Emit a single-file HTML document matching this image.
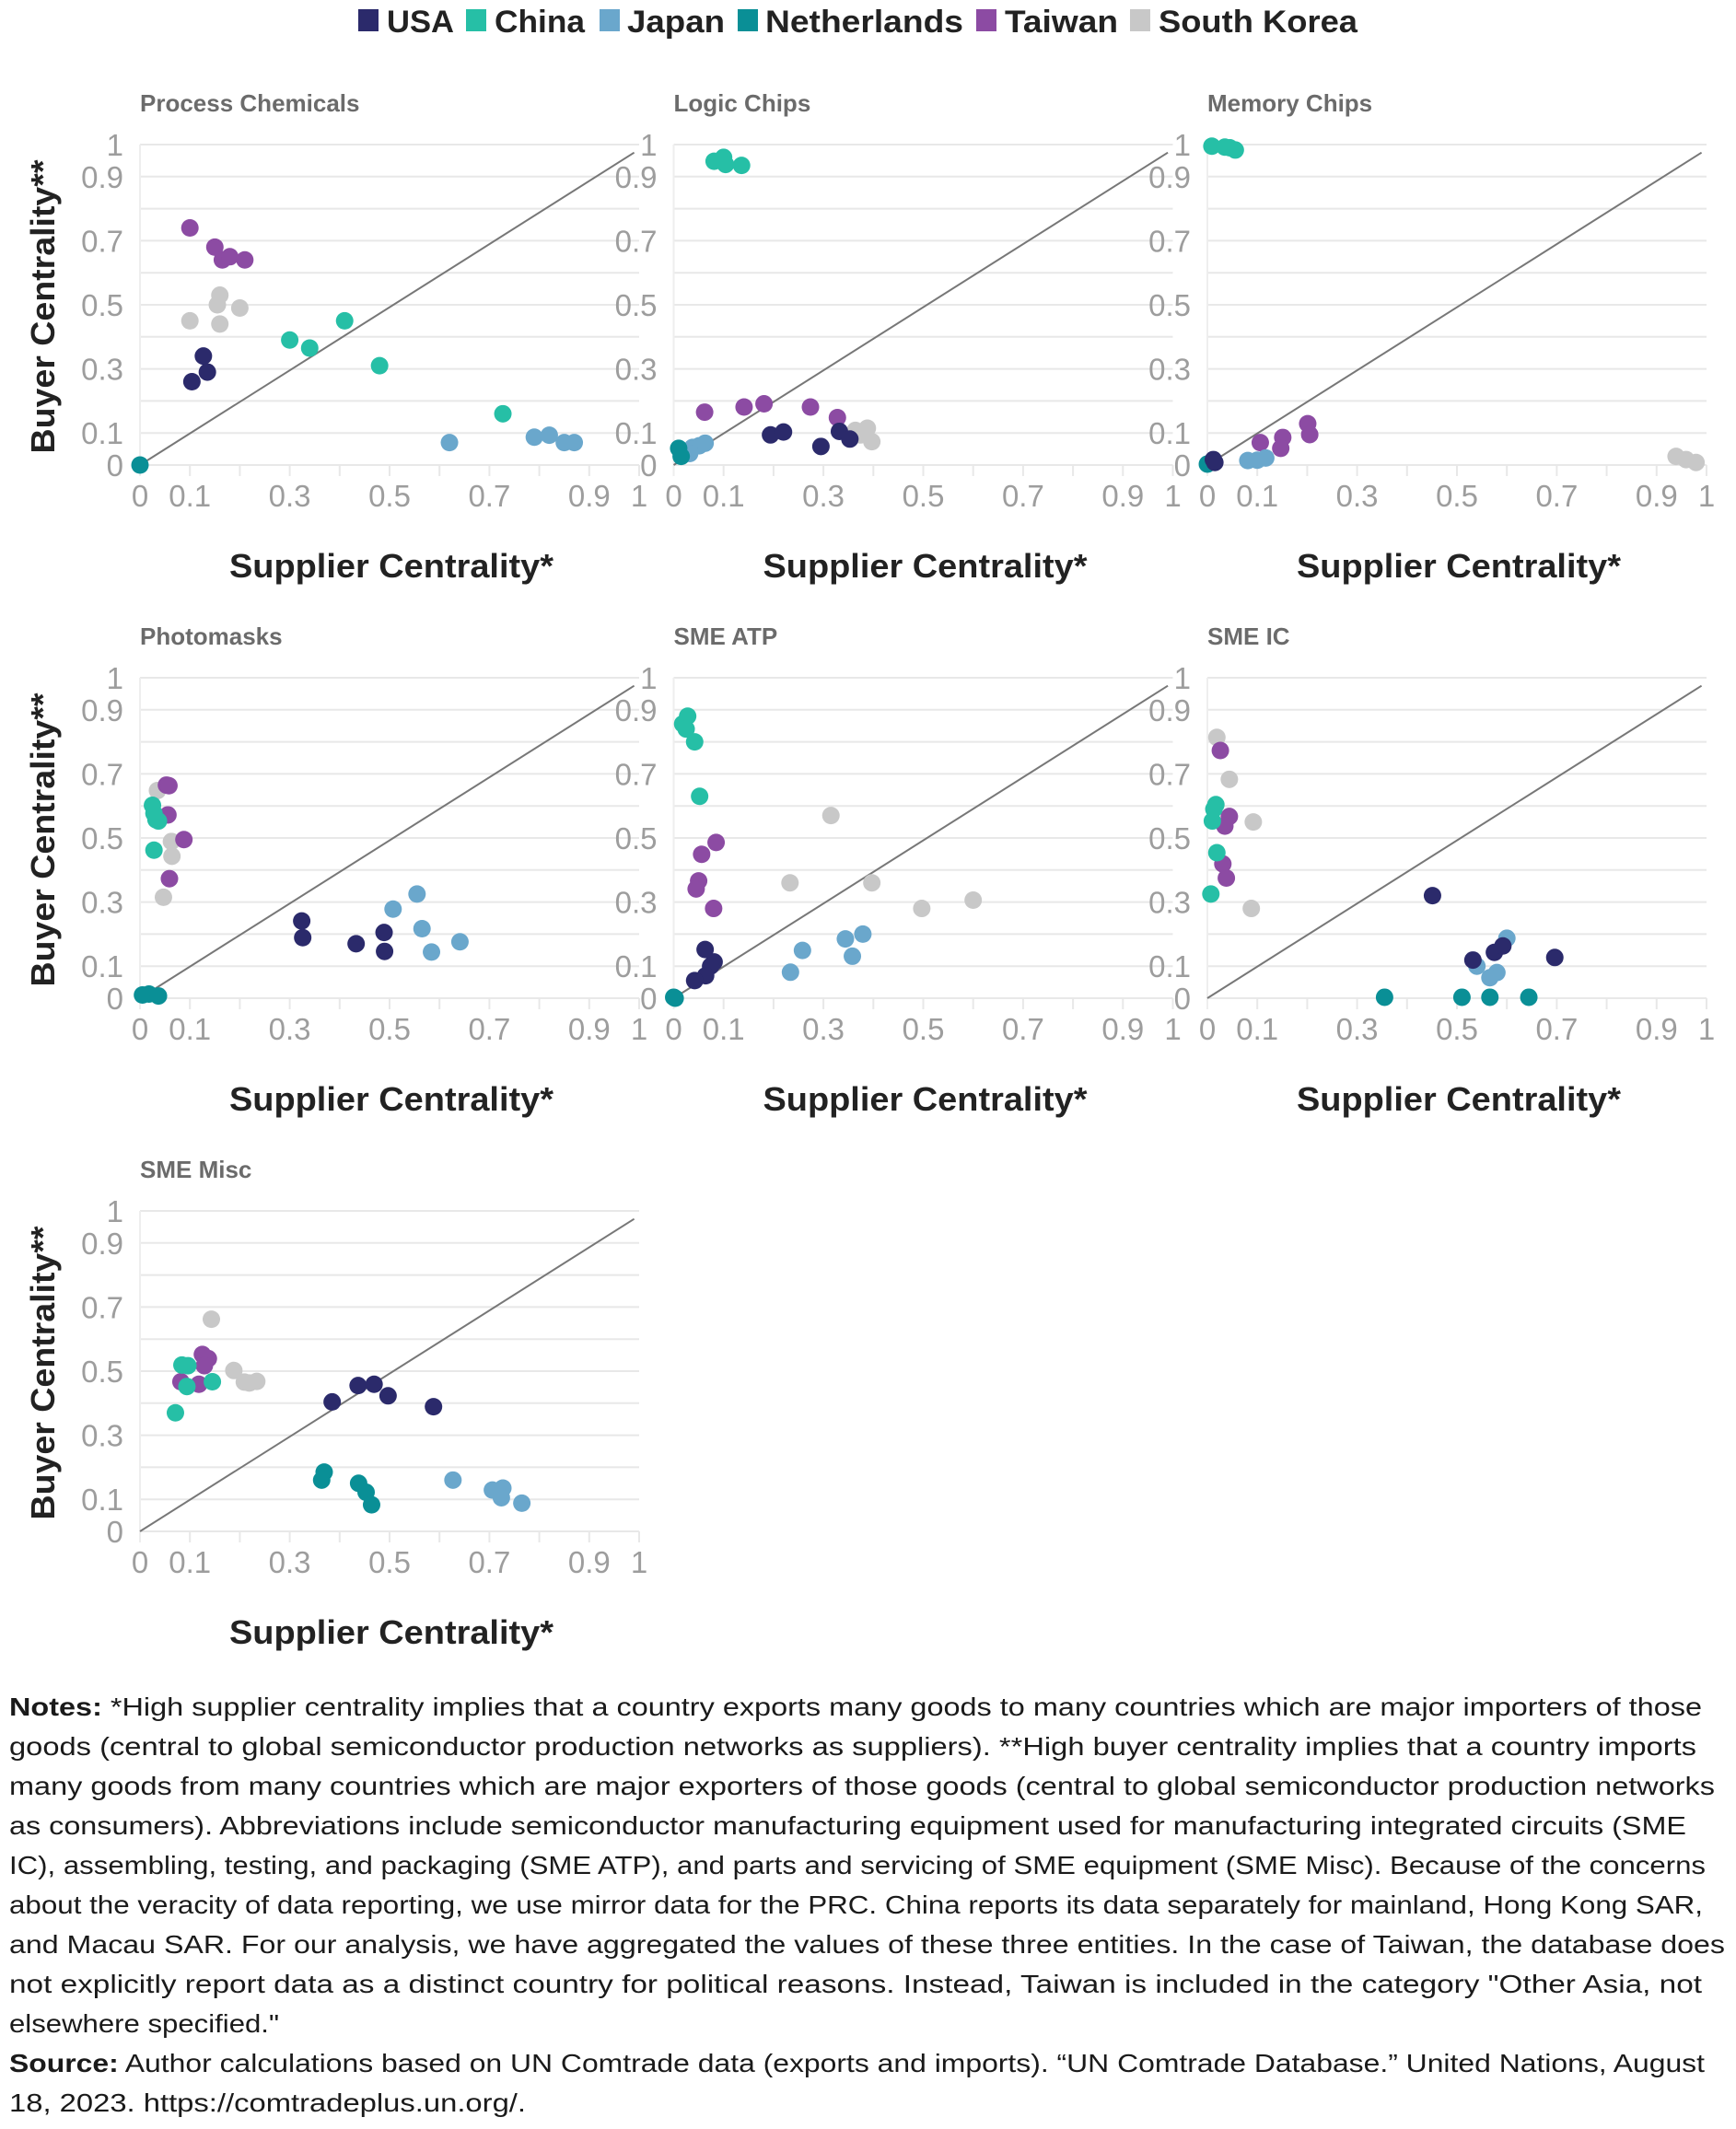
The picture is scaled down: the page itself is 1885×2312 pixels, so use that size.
<!DOCTYPE html>
<html><head><meta charset="utf-8">
<style>
html,body{margin:0;padding:0;background:#fff;}
svg{display:block;font-family:"Liberation Sans",sans-serif;}
</style></head>
<body>
<svg id="fig" xmlns="http://www.w3.org/2000/svg" width="1885" height="2312" viewBox="0 0 1885 2312">
  <g id="legend" font-weight="bold" font-size="34" fill="#222">
    <rect x="389" y="10" width="22" height="24" fill="#2b2a6b"/>
    <text x="420" y="35" textLength="73" lengthAdjust="spacingAndGlyphs">USA</text>
    <rect x="506" y="10" width="22" height="24" fill="#26bfa6"/>
    <text x="537" y="35" textLength="98" lengthAdjust="spacingAndGlyphs">China</text>
    <rect x="651" y="10" width="22" height="24" fill="#6aa7cc"/>
    <text x="681" y="35" textLength="106" lengthAdjust="spacingAndGlyphs">Japan</text>
    <rect x="801" y="10" width="22" height="24" fill="#0a8f96"/>
    <text x="831" y="35" textLength="215" lengthAdjust="spacingAndGlyphs">Netherlands</text>
    <rect x="1060" y="10" width="22" height="24" fill="#8c4ba3"/>
    <text x="1091" y="35" textLength="123" lengthAdjust="spacingAndGlyphs">Taiwan</text>
    <rect x="1227" y="10" width="22" height="24" fill="#c8c8c8"/>
    <text x="1258" y="35" textLength="216" lengthAdjust="spacingAndGlyphs">South Korea</text>
  </g>
  <g id="panels"></g>
  <g id="notes" font-size="28" fill="#1a1a1a">
    <text x="10" y="1863" textLength="1838" lengthAdjust="spacingAndGlyphs"><tspan font-weight="bold">Notes:</tspan> *High supplier centrality implies that a country exports many goods to many countries which are major importers of those</text>
    <text x="10" y="1906" textLength="1832" lengthAdjust="spacingAndGlyphs">goods (central to global semiconductor production networks as suppliers). **High buyer centrality implies that a country imports</text>
    <text x="10" y="1949" textLength="1852" lengthAdjust="spacingAndGlyphs">many goods from many countries which are major exporters of those goods (central to global semiconductor production networks</text>
    <text x="10" y="1992" textLength="1821" lengthAdjust="spacingAndGlyphs">as consumers). Abbreviations include semiconductor manufacturing equipment used for manufacturing integrated circuits (SME</text>
    <text x="10" y="2035" textLength="1842" lengthAdjust="spacingAndGlyphs">IC), assembling, testing, and packaging (SME ATP), and parts and servicing of SME equipment (SME Misc). Because of the concerns</text>
    <text x="10" y="2078" textLength="1839" lengthAdjust="spacingAndGlyphs">about the veracity of data reporting, we use mirror data for the PRC. China reports its data separately for mainland, Hong Kong SAR,</text>
    <text x="10" y="2121" textLength="1863" lengthAdjust="spacingAndGlyphs">and Macau SAR. For our analysis, we have aggregated the values of these three entities. In the case of Taiwan, the database does</text>
    <text x="10" y="2164" textLength="1838" lengthAdjust="spacingAndGlyphs">not explicitly report data as a distinct country for political reasons. Instead, Taiwan is included in the category "Other Asia, not</text>
    <text x="10" y="2207" textLength="293" lengthAdjust="spacingAndGlyphs">elsewhere specified."</text>
    <text x="10" y="2250" textLength="1841" lengthAdjust="spacingAndGlyphs"><tspan font-weight="bold">Source:</tspan> Author calculations based on UN Comtrade data (exports and imports). “UN Comtrade Database.” United Nations, August</text>
    <text x="10" y="2293" textLength="561" lengthAdjust="spacingAndGlyphs">18, 2023. https://comtradeplus.un.org/.</text>
  </g>
</svg>
<script>
// ---- data: [supplier centrality, buyer centrality] per point ----
const countries = ["South Korea","Taiwan","China","Japan","Netherlands","USA"];
const colors = ["#c8c8c8","#8c4ba3","#26bfa6","#6aa7cc","#0a8f96","#2b2a6b"];
const tickLabels = ["0","0.1","0.3","0.5","0.7","0.9","1"];
const tickValues = [0,0.1,0.3,0.5,0.7,0.9,1];
const panelTitles = ["Process Chemicals","Logic Chips","Memory Chips","Photomasks","SME ATP","SME IC","SME Misc"];

const pcKorea = [[0.10,0.45],[0.16,0.53],[0.155,0.50],[0.16,0.44],[0.20,0.49]];
const pcTaiwan = [[0.10,0.74],[0.15,0.68],[0.165,0.64],[0.18,0.65],[0.21,0.64]];
const pcChina = [[0.30,0.39],[0.34,0.365],[0.41,0.45],[0.48,0.31],[0.727,0.16]];
const pcJapan = [[0.62,0.07],[0.79,0.087],[0.82,0.093],[0.85,0.07],[0.87,0.07]];
const pcNL = [[0,0]];
const pcUSA = [[0.127,0.34],[0.135,0.29],[0.104,0.26]];

const lcKorea = [[0.364,0.108],[0.388,0.115],[0.397,0.073],[0.374,0.094]];
const lcTaiwan = [[0.062,0.165],[0.141,0.181],[0.181,0.191],[0.274,0.181],[0.328,0.148]];
const lcChina = [[0.081,0.948],[0.10,0.96],[0.104,0.938],[0.136,0.935]];
const lcJapan = [[0.038,0.055],[0.051,0.06],[0.063,0.068],[0.032,0.036]];
const lcNL = [[0.01,0.052],[0.015,0.027]];
const lcUSA = [[0.194,0.094],[0.22,0.103],[0.295,0.058],[0.332,0.105],[0.353,0.081]];

const mcKorea = [[0.939,0.027],[0.959,0.017],[0.979,0.008]];
const mcTaiwan = [[0.106,0.07],[0.151,0.086],[0.147,0.052],[0.201,0.129],[0.205,0.095]];
const mcChina = [[0.009,0.995],[0.035,0.992],[0.045,0.99],[0.056,0.983]];
const mcJapan = [[0.081,0.014],[0.10,0.015],[0.117,0.022]];
const mcNL = [[0,0.003]];
const mcUSA = [[0.012,0.017],[0.015,0.008]];

const pmKorea = [[0.035,0.648],[0.063,0.489],[0.064,0.443],[0.047,0.315]];
const pmTaiwan = [[0.053,0.665],[0.058,0.663],[0.056,0.572],[0.088,0.495],[0.059,0.373]];
const pmChina = [[0.025,0.602],[0.028,0.577],[0.037,0.553],[0.028,0.462],[0.032,0.557]];
const pmJapan = [[0.555,0.325],[0.507,0.278],[0.565,0.217],[0.641,0.176],[0.584,0.144]];
const pmNL = [[0.005,0.01],[0.018,0.013],[0.037,0.007]];
const pmUSA = [[0.324,0.241],[0.326,0.189],[0.433,0.17],[0.489,0.205],[0.49,0.146]];

const atpKorea = [[0.315,0.57],[0.233,0.36],[0.397,0.36],[0.497,0.28],[0.60,0.306]];
const atpTaiwan = [[0.085,0.486],[0.056,0.449],[0.05,0.366],[0.045,0.341],[0.08,0.28]];
const atpChina = [[0.028,0.88],[0.018,0.856],[0.025,0.84],[0.042,0.80],[0.052,0.63]];
const atpJapan = [[0.379,0.20],[0.344,0.185],[0.258,0.149],[0.358,0.131],[0.234,0.081]];
const atpNL = [[0,0.003],[0.003,0]];
const atpUSA = [[0.063,0.152],[0.081,0.113],[0.074,0.10],[0.064,0.07],[0.042,0.055]];

const icKorea = [[0.019,0.814],[0.044,0.683],[0.092,0.55],[0.088,0.28]];
const icTaiwan = [[0.026,0.773],[0.044,0.567],[0.035,0.537],[0.031,0.419],[0.038,0.375]];
const icChina = [[0.017,0.604],[0.013,0.59],[0.010,0.553],[0.019,0.454],[0.007,0.325]];
const icJapan = [[0.60,0.187],[0.54,0.10],[0.58,0.08],[0.566,0.064]];
const icNL = [[0.355,0.003],[0.51,0.003],[0.566,0.003],[0.644,0.003]];
const icUSA = [[0.451,0.32],[0.532,0.119],[0.575,0.143],[0.592,0.163],[0.696,0.127]];

const miscKorea = [[0.143,0.662],[0.188,0.502],[0.209,0.466],[0.234,0.468],[0.219,0.463]];
const miscTaiwan = [[0.125,0.552],[0.137,0.539],[0.129,0.517],[0.082,0.467],[0.118,0.459]];
const miscChina = [[0.084,0.519],[0.096,0.517],[0.094,0.452],[0.145,0.467],[0.071,0.37]];
const miscJapan = [[0.627,0.16],[0.706,0.129],[0.727,0.135],[0.724,0.105],[0.765,0.088]];
const miscNL = [[0.369,0.185],[0.364,0.16],[0.438,0.15],[0.453,0.122],[0.464,0.083]];
const miscUSA = [[0.385,0.404],[0.437,0.455],[0.469,0.459],[0.497,0.423],[0.588,0.389]];

const panelSeries = [
  [pcKorea,pcTaiwan,pcChina,pcJapan,pcNL,pcUSA],
  [lcKorea,lcTaiwan,lcChina,lcJapan,lcNL,lcUSA],
  [mcKorea,mcTaiwan,mcChina,mcJapan,mcNL,mcUSA],
  [pmKorea,pmTaiwan,pmChina,pmJapan,pmNL,pmUSA],
  [atpKorea,atpTaiwan,atpChina,atpJapan,atpNL,atpUSA],
  [icKorea,icTaiwan,icChina,icJapan,icNL,icUSA],
  [miscKorea,miscTaiwan,miscChina,miscJapan,miscNL,miscUSA]
];
const diagEnd = [0.99,0.975];

const NS = "http://www.w3.org/2000/svg";
const root = document.getElementById("panels");
function mk(tag, attrs, parent){
  const e = document.createElementNS(NS, tag);
  for (const k in attrs) e.setAttribute(k, attrs[k]);
  parent.appendChild(e);
  return e;
}
const PW = 542, PH = 348;
panelSeries.forEach((series, p) => {
  const col = p % 3, row = Math.floor(p / 3);
  const x0 = 152 + col * 579.5, y0 = 505 + row * 579;
  const sx = v => x0 + v * PW;
  const sy = v => y0 - v * PH;
  const slug = panelTitles[p].toLowerCase().replace(/\s+/g, "-");
  const g = mk("g", {}, root);
  
  

  const t = mk("text", {x: x0, y: y0 - 384, "font-size": 26, "font-weight": "bold", fill: "#6b6b6b"}, g);
  t.textContent = panelTitles[p];
  
  

  // gridlines
  for (let i = 0; i <= 10; i++) {
    const gl = mk("line", {x1: x0, x2: x0 + PW, y1: sy(i/10), y2: sy(i/10), stroke: "#e8e8e8", "stroke-width": 2}, g);
    
    
    const tk = mk("line", {x1: sx(i/10), x2: sx(i/10), y1: y0, y2: y0 + 12, stroke: "#e8e8e8", "stroke-width": 2}, g);
    
    
  }
  const ax = mk("line", {x1: x0, x2: x0, y1: sy(1), y2: y0 + 12, stroke: "#eeeeee", "stroke-width": 2}, g);
  
  

  tickValues.forEach((v, i) => {
    const xl = mk("text", {x: sx(v), y: y0 + 45, "font-size": 33, fill: "#9d9d9d", "text-anchor": "middle"}, g);
    xl.textContent = tickLabels[i];
    
    
    const yl = mk("text", {x: x0 - 18, y: sy(v) + 12, "font-size": 33, fill: "#9d9d9d", "text-anchor": "end"}, g);
    yl.textContent = tickLabels[i];
    
    
  });

  const dl = mk("line", {x1: sx(0), y1: sy(0), x2: sx(diagEnd[0]), y2: sy(diagEnd[1]), stroke: "#777", "stroke-width": 2}, g);
  
  

  series.forEach((pts, s) => {
    pts.forEach(pt => {
      const c = mk("circle", {cx: sx(pt[0]), cy: sy(pt[1]), r: 9.5, fill: colors[s]}, g);
      
      
    });
  });

  const xt = mk("text", {x: 249 + col * 579.5, y: y0 + 122, "font-size": 36, "font-weight": "bold", fill: "#222", textLength: 352, lengthAdjust: "spacingAndGlyphs"}, g);
  xt.textContent = "Supplier Centrality*";
  
  

  if (col === 0) {
    const cy = y0 - 172;
    const yt = mk("text", {x: 0, y: 0, "font-size": 36, "font-weight": "bold", fill: "#222", "text-anchor": "middle", transform: "translate(59," + cy + ") rotate(-90)", textLength: 319, lengthAdjust: "spacingAndGlyphs"}, g);
    yt.textContent = "Buyer Centrality**";
    
    
  }
});
</script>
</body></html>
